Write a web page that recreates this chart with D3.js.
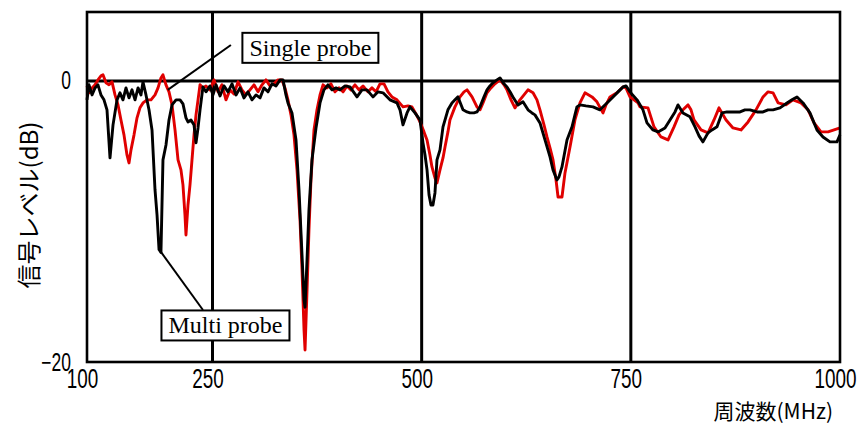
<!DOCTYPE html>
<html>
<head>
<meta charset="utf-8">
<script src="https://cdn.jsdelivr.net/npm/d3@7"></script>
<style>
  html, body { margin: 0; padding: 0; background: #fff; }
  svg { display: block; }
</style>
</head>
<body>
<svg id="chart" width="858" height="426"></svg>
<script>
// ---------------- DATA ----------------
const xTicks = [100, 250, 500, 750, 1000];
const yTicks = [0, -20];
const yTickLabels = ["0", "\u221220"];
const xTitle = "周波数(MHz)";
const yTitle = "信号レベル(dB)";
const gridFreqs = [250, 500, 750];

// Single probe (red)
const singleFreq = [100,102.4,106,109.6,113.1,116.7,119.1,122.7,126.3,129.9,133.5,137.1,140.6,144.2,147.8,150.2,152.6,156.2,159.8,163.3,166.9,171.7,176.5,181.3,184.9,188.4,190.8,194.4,198.0,201.6,205.2,208.8,212.3,214.7,217.1,218.3,220.7,223.1,225.5,227.9,230.3,232.7,235.1,238.6,242.2,247.0,251.8,256.6,261.3,266.1,270.9,275.7,280.5,285.2,290.0,294.8,299.6,304.4,309.2,313.9,318.7,323.5,328.3,333.1,336.6,340.2,343.8,347.4,351.0,354.6,357.0,359.4,360.6,363.0,365.3,367.7,371.3,374.9,378.5,382.1,386.8,391.6,396.4,401.2,406.0,410.7,415.5,420.3,425.1,429.9,435.8,440.6,445.4,450.2,455.0,459.7,464.5,470.5,477.7,483.7,488.4,493.2,498.0,502.8,506.4,509.9,512.3,515.9,518.3,521.9,525.5,527.9,531.4,533.8,539.8,545.8,550.6,554.2,560.2,566.1,569.7,573.3,578.1,582.8,587.6,593.6,598.4,602.0,606.8,611.5,617.5,622.3,627.1,633.1,637.8,641.4,646.2,649.8,653.4,657.0,660.6,663.0,667.7,671.3,677.3,683.2,689.2,695.2,703.6,709.5,716.7,720.3,725.1,733.4,740.6,744.2,749.0,753.8,758.6,760.9,770.5,777.7,786.1,794.5,801.6,807.6,812.3,818.4,821.9,825.5,833.9,842.3,849.4,855.4,863.8,872.1,881.7,890.1,899.6,908.0,914.0,920.0,926.0,935.4,943.8,953.4,961.8,969.0,977.3,985.7,992.9,1000];
const singleDb = [-0.36,-0.85,-0.5,-0.28,0.07,0.36,0.43,-0.14,-0.28,-0.07,-1.0,-1.71,-2.78,-3.84,-5.27,-5.84,-4.91,-3.84,-2.63,-1.92,-1.57,-1.35,-1.35,-1.0,-0.5,0.21,0.43,-0.28,-0.78,-1.71,-3.49,-5.62,-6.33,-7.4,-9.54,-10.96,-8.83,-7.4,-5.62,-3.84,-2.42,-1.35,-0.28,-0.5,-0.36,-0.64,0.07,-0.78,-0.28,-1.35,-0.64,-0.93,-0.07,-0.64,-1.0,-0.64,-0.28,-0.78,-0.28,0.07,-0.36,-0.21,0.07,0.07,-0.5,-1.35,-2.42,-3.84,-6.33,-9.89,-13.45,-17.72,-19.15,-14.88,-10.6,-7.05,-3.49,-2.06,-1.0,-0.28,-0.5,-0.21,-0.78,-0.5,-0.78,-0.36,-0.64,-0.28,-0.64,-0.36,-0.78,-0.5,-0.78,-0.21,-0.21,-0.78,-1.14,-1.35,-1.85,-1.78,-1.85,-2.35,-2.92,-3.63,-4.2,-5.27,-6.12,-6.9,-7.26,-6.33,-5.48,-4.7,-3.63,-2.78,-1.85,-1.14,-0.78,-0.64,-1.14,-1.85,-2.06,-1.57,-0.85,-0.5,-0.21,0.07,-0.28,-0.64,-1.35,-1.92,-1.35,-1.0,-0.64,-0.85,-1.35,-2.06,-3.13,-3.99,-4.77,-5.62,-7.05,-8.26,-8.26,-6.55,-4.7,-2.78,-1.57,-0.85,-1.14,-1.49,-2.28,-1.71,-1.14,-0.85,-0.43,-0.5,-1.14,-1.35,-1.57,-1.85,-1.92,-3.27,-3.99,-4.2,-3.27,-2.42,-2.06,-1.71,-2.06,-2.78,-3.49,-3.7,-2.78,-1.92,-2.78,-3.35,-3.49,-2.92,-2.06,-1.14,-0.78,-0.85,-1.57,-1.71,-1.35,-1.57,-2.06,-2.99,-3.63,-3.63,-3.49,-3.35];

// Multi probe (black)
const multiFreq = [100,102.4,106,109.6,113.1,116.7,120.3,123.9,127.5,131.1,135.9,139.4,143.0,146.6,150.2,153.8,157.4,161.0,164.5,166.9,170.5,174.1,177.7,181.3,183.7,186.1,188.4,190.8,194.4,198.0,201.6,206.4,211.2,214.7,218.3,220.7,224.3,227.9,230.3,232.7,235.1,238.6,242.2,247.0,250.6,254.2,259.0,263.7,268.5,273.3,278.1,282.9,287.6,292.4,297.2,302.0,306.8,311.5,316.3,321.1,325.9,330.7,334.3,337.8,340.2,345.0,349.8,353.4,357.0,359.4,360.6,363.0,365.3,368.9,373.7,378.5,383.2,388.0,392.8,397.6,402.4,408.4,414.3,422.7,428.7,434.6,441.8,447.8,453.8,462.1,470.5,474.1,477.7,482.5,486.0,492.0,498.0,501.6,504.0,506.4,508.8,511.1,513.5,515.9,518.3,521.9,525.5,531.4,536.2,539.8,543.4,549.4,554.2,557.8,562.5,566.1,569.7,574.5,578.1,581.6,585.2,590.0,593.6,598.4,602.0,605.6,609.1,615.1,621.1,627.1,631.8,635.4,641.4,647.4,653.4,657.0,661.7,664.1,667.7,673.7,679.7,683.2,685.6,689.2,696.4,704.8,713.1,721.5,728.7,737.1,740.6,744.2,749.0,757.4,764.5,769.3,776.5,782.5,790.8,796.8,802.8,806.4,812.3,820.7,826.7,831.5,836.2,842.2,847.0,853.0,859.0,864.9,874.5,880.5,886.4,892.4,900.8,908.0,914.0,920.0,928.3,936.6,942.6,948.6,955.8,964.1,972.5,979.7,988.0,996.4,1000];
const multiDb = [-1.35,-0.28,-1.0,-0.5,-0.28,-1.0,-1.35,-2.06,-5.48,-3.13,-1.35,-0.85,-1.35,-0.5,-1.21,-0.64,-1.35,-0.5,-1.0,-0.07,-1.0,-2.06,-3.49,-7.76,-9.54,-12.0,-12.2,-5.62,-4.56,-2.78,-1.71,-1.35,-1.35,-1.64,-2.63,-2.92,-2.78,-3.13,-4.41,-3.35,-2.06,-0.43,-0.78,-0.36,-1.0,-0.28,-1.07,-0.36,-0.78,-0.21,-1.0,-0.5,-1.21,-0.78,-1.35,-1.0,-1.21,-0.5,-0.78,-0.21,-0.36,0.07,0.07,-1.0,-1.57,-2.28,-4.2,-7.76,-12.4,-15.6,-16.1,-12.7,-9.18,-5.62,-3.35,-1.57,-0.64,-0.28,-0.64,-0.5,-0.64,-0.36,-0.43,-1.14,-0.64,-0.64,-1.14,-0.78,-0.85,-1.35,-1.57,-2.06,-3.13,-2.28,-1.85,-2.28,-2.78,-4.41,-5.27,-6.33,-8.11,-8.83,-8.83,-7.97,-5.62,-4.91,-3.27,-2.06,-1.57,-1.35,-1.14,-2.06,-2.21,-2.28,-2.28,-2.21,-1.85,-1.14,-0.64,-0.36,-0.14,0.07,0.21,-0.21,-0.43,-0.78,-1.14,-1.71,-1.49,-2.06,-2.28,-2.42,-2.99,-4.2,-5.41,-6.33,-7.05,-6.83,-6.12,-4.2,-3.27,-2.42,-1.85,-1.71,-1.78,-1.85,-2.06,-1.57,-1.14,-0.64,-0.43,-0.36,-0.78,-1.35,-2.06,-2.99,-3.49,-3.63,-3.35,-2.78,-2.21,-1.71,-2.28,-2.56,-3.27,-3.91,-4.34,-3.7,-3.49,-3.27,-2.28,-2.21,-2.21,-2.21,-2.06,-2.06,-2.21,-2.21,-2.06,-2.06,-1.92,-1.57,-1.35,-1.14,-1.57,-2.28,-3.49,-3.99,-4.34,-4.34,-3.84];

// Annotations (data coordinates)
const annSingle = { text: "Single probe", boxFreq: 367, boxDb: 2.35, lineFromFreq: 272, lineFromDb: 2.55, lineToFreq: 196.5, lineToDb: -0.64 };
const annMulti  = { text: "Multi probe",  boxFreq: 265.5, boxDb: -17.4, lineFromFreq: 238.6, lineFromDb: -16.3, lineToFreq: 187.5, lineToDb: -12.1 };

// ---------------- DRAW ----------------
const svg = d3.select("#chart");
const mLeft = 87, mRight = 840, mTop = 12, mBottom = 362;

const x = d3.scaleLinear().domain([100, 1000]).range([mLeft, mRight]);
const y = d3.scaleLinear().domain([-20, 4.9]).range([mBottom, mTop]);

const numFont = "'Liberation Sans', 'DejaVu Sans', sans-serif";
const cjkFont = "'Noto Sans CJK JP', 'Noto Sans', sans-serif";
const serifFont = "'Liberation Serif', 'Times New Roman', serif";
const squeeze = 0.7;

// grid lines
svg.append("g").selectAll("line").data(gridFreqs).join("line")
  .attr("x1", d => x(d)).attr("x2", d => x(d))
  .attr("y1", mTop).attr("y2", mBottom)
  .attr("stroke", "#000").attr("stroke-width", 3);

svg.append("line")
  .attr("x1", mLeft).attr("x2", mRight)
  .attr("y1", y(0)).attr("y2", y(0))
  .attr("stroke", "#000").attr("stroke-width", 3);

// series
const singleData = singleFreq.map((f, i) => [f, singleDb[i]]);
const multiData = multiFreq.map((f, i) => [f, multiDb[i]]);
const line = d3.line().x(d => x(d[0])).y(d => y(d[1]));

svg.append("path").datum(singleData)
  .attr("d", line).attr("fill", "none")
  .attr("stroke", "#e00000").attr("stroke-width", 2.9)
  .attr("stroke-linejoin", "round");

svg.append("path").datum(multiData)
  .attr("d", line).attr("fill", "none")
  .attr("stroke", "#000").attr("stroke-width", 2.9)
  .attr("stroke-linejoin", "round");

// frame
svg.append("rect")
  .attr("x", mLeft).attr("y", mTop)
  .attr("width", mRight - mLeft).attr("height", mBottom - mTop)
  .attr("fill", "none").attr("stroke", "#000").attr("stroke-width", 2.6);

// x axis
const xAxis = svg.append("g")
  .attr("transform", `translate(0,${mBottom})`)
  .call(d3.axisBottom(x).tickValues(xTicks).tickSize(0).tickPadding(7).tickFormat(d3.format("d")));
xAxis.select(".domain").remove();
xAxis.selectAll("text")
  .attr("font-family", numFont).attr("font-size", 27).attr("fill", "#000")
  .attr("x", -5 / squeeze)
  .attr("transform", `scale(${squeeze},1)`);

// y axis
const yAxis = svg.append("g")
  .attr("transform", `translate(${mLeft},0)`)
  .call(d3.axisLeft(y).tickValues(yTicks).tickSize(0).tickPadding(16).tickFormat((d, i) => yTickLabels[i]));
yAxis.select(".domain").remove();
yAxis.selectAll("text")
  .attr("font-family", numFont).attr("font-size", 25).attr("fill", "#000")
  .attr("x", -16 / squeeze)
  .attr("transform", `scale(${squeeze},1)`);

// titles
svg.append("text")
  .attr("x", 833).attr("y", 419)
  .attr("text-anchor", "end")
  .attr("font-family", cjkFont).attr("font-size", 21)
  .text(xTitle);

svg.append("text")
  .attr("transform", `translate(27,205) rotate(-90)`)
  .attr("text-anchor", "middle").attr("dominant-baseline", "central")
  .attr("font-family", cjkFont).attr("font-size", 24)
  .text(yTitle);

// annotations
function annotate(a) {
  svg.append("line")
    .attr("x1", x(a.lineFromFreq)).attr("y1", y(a.lineFromDb))
    .attr("x2", x(a.lineToFreq)).attr("y2", y(a.lineToDb))
    .attr("stroke", "#000").attr("stroke-width", 2);
  const g = svg.append("g");
  const t = g.append("text")
    .attr("x", x(a.boxFreq)).attr("y", y(a.boxDb))
    .attr("text-anchor", "middle").attr("dominant-baseline", "central")
    .attr("font-family", serifFont).attr("font-size", 24)
    .text(a.text);
  const bb = t.node().getBBox();
  const padX = 7, boxH = 30;
  g.insert("rect", "text")
    .attr("x", bb.x - padX).attr("y", y(a.boxDb) - boxH / 2)
    .attr("width", bb.width + 2 * padX).attr("height", boxH)
    .attr("fill", "#fff").attr("stroke", "#000").attr("stroke-width", 2);
}
annotate(annSingle);
annotate(annMulti);
</script>
</body>
</html>
